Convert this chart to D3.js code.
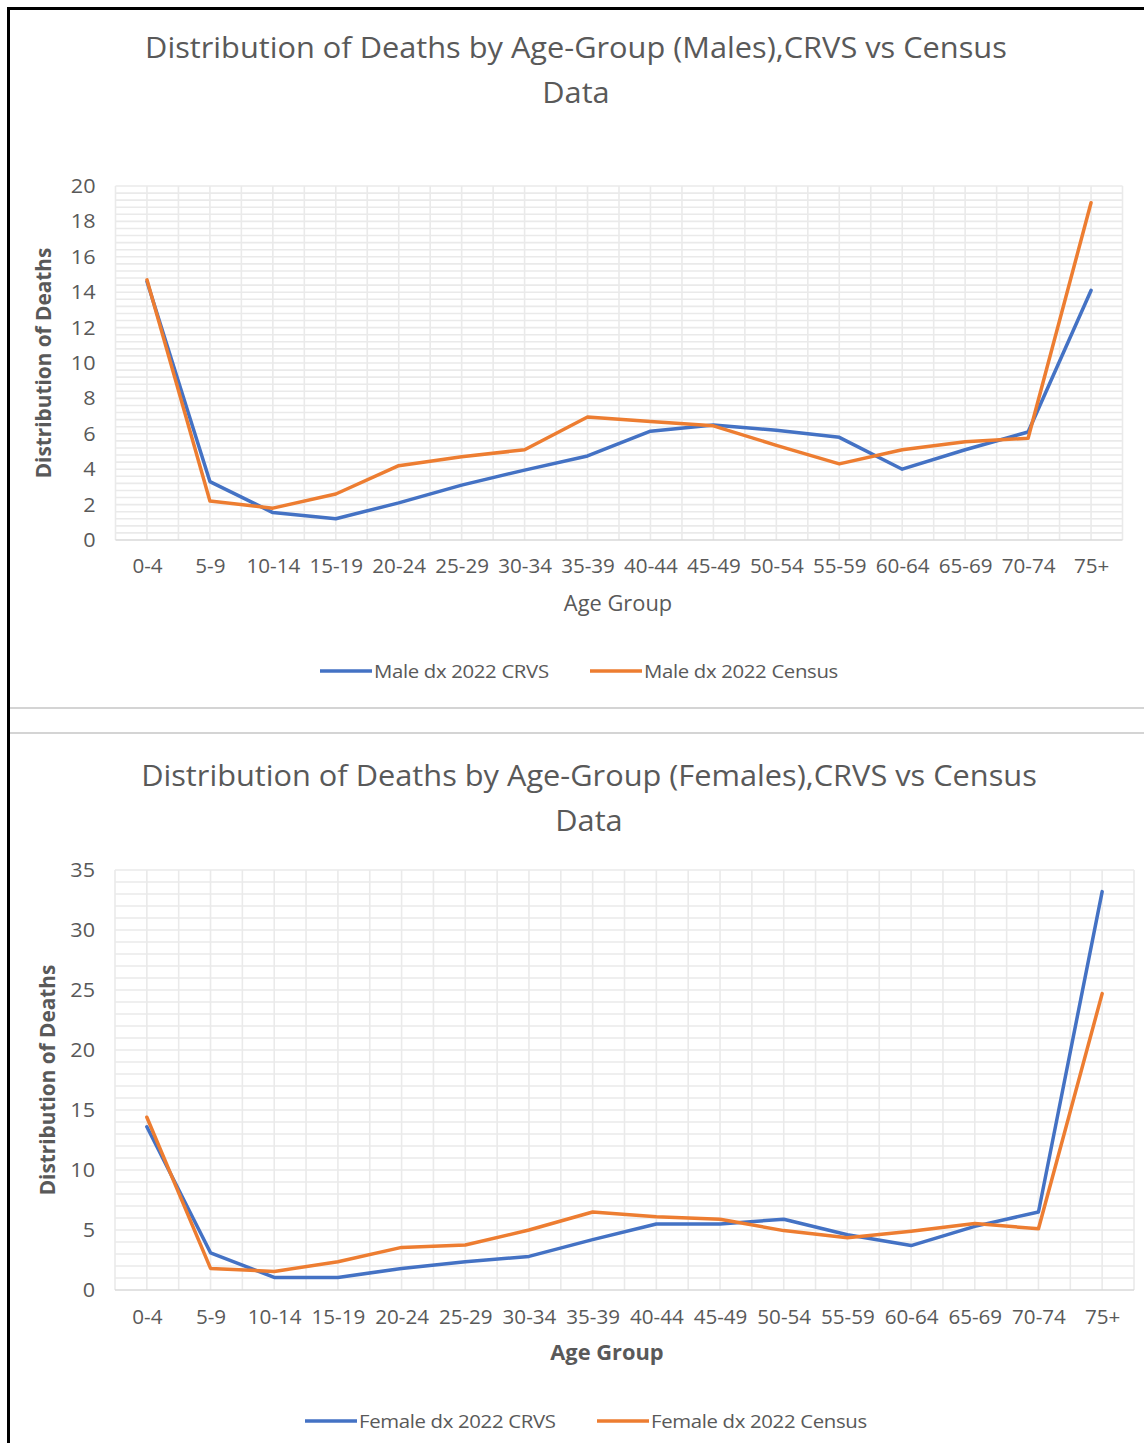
<!DOCTYPE html>
<html>
<head>
<meta charset="utf-8">
<script src="https://cdn.jsdelivr.net/npm/d3@7/dist/d3.min.js"></script>
<style>
  html, body { margin: 0; padding: 0; background: #fff; }
  svg { display: block; }
  text { font-family: "Open Sans", "Noto Sans", sans-serif; fill: #595959; }
</style>
</head>
<body>
<svg id="chart" width="1144" height="1443"></svg>
<script>
// Age groups shared by both panels
const ageGroups = ["0-4","5-9","10-14","15-19","20-24","25-29","30-34","35-39",
                   "40-44","45-49","50-54","55-59","60-64","65-69","70-74","75+"];

// Male distribution of deaths (%)
const maleCRVS   = [14.6, 3.3, 1.55, 1.2, 2.1, 3.1, 3.95, 4.75, 6.15, 6.5, 6.2, 5.8, 4.0, 5.1, 6.1, 14.1];
const maleCensus = [14.7, 2.2, 1.8, 2.6, 4.2, 4.7, 5.1, 6.95, 6.7, 6.45, 5.35, 4.3, 5.1, 5.55, 5.75, 19.05];

// Female distribution of deaths (%)
const femaleCRVS   = [13.6, 3.1, 1.05, 1.05, 1.8, 2.35, 2.8, 4.2, 5.5, 5.5, 5.9, 4.6, 3.7, 5.3, 6.5, 33.2];
const femaleCensus = [14.4, 1.8, 1.55, 2.35, 3.55, 3.75, 5.0, 6.5, 6.1, 5.9, 4.95, 4.35, 4.9, 5.55, 5.1, 24.7];

// Axis ticks
const maleTicks   = [0, 2, 4, 6, 8, 10, 12, 14, 16, 18, 20];
const femaleTicks = [0, 5, 10, 15, 20, 25, 30, 35];

const maleSeriesNames   = ["Male dx 2022 CRVS", "Male dx 2022 Census"];
const femaleSeriesNames = ["Female dx 2022 CRVS", "Female dx 2022 Census"];
const seriesColors = ["#4472C4", "#ED7D31"];

const svg = d3.select("#chart");

// Stretch or squeeze each label horizontally by factor k
function fit(sel, k) {
  sel.each(function () {
    const len = this.getComputedTextLength();
    if (len > 0) {
      d3.select(this).attr("textLength", len * k).attr("lengthAdjust", "spacingAndGlyphs");
    }
  });
}

// Outer frame and the divider between the two panels
svg.append("rect")
  .attr("x", 8.5).attr("y", 8.5).attr("width", 1160).attr("height", 1460)
  .attr("fill", "none").attr("stroke", "#000").attr("stroke-width", 3);
[708, 733].forEach(y => {
  svg.append("line").attr("x1", 10).attr("x2", 1144).attr("y1", y).attr("y2", y)
    .attr("stroke", "#d4d4d4").attr("stroke-width", 2);
});

function drawPanel(cfg) {
  const g = svg.append("g");
  const { left, right, top, bottom } = cfg.plot;

  const xBand = d3.scaleBand().domain(ageGroups).range([left, right]).paddingInner(0).paddingOuter(0);
  const xc = d => xBand(d) + xBand.bandwidth() / 2;
  const y = d3.scaleLinear().domain([0, d3.max(cfg.ticks)]).range([bottom, top]);

  // Minor + major horizontal gridlines
  const grid = g.append("g").attr("stroke", "#eaeaea").attr("stroke-width", 1.6);
  const yMax = d3.max(cfg.ticks);
  const nMinor = Math.round(yMax / cfg.minorStep);
  for (let i = 1; i <= nMinor; i++) {
    const yy = y(i * cfg.minorStep);
    grid.append("line").attr("x1", left).attr("x2", right).attr("y1", yy).attr("y2", yy);
  }
  // Vertical gridlines: category boundaries and centres
  ageGroups.forEach((c, i) => {
    const xs = [xBand(c), xc(c)];
    if (i === ageGroups.length - 1) xs.push(xBand(c) + xBand.bandwidth());
    xs.forEach(xx => grid.append("line").attr("x1", xx).attr("x2", xx).attr("y1", top).attr("y2", bottom));
  });

  // Category axis line
  g.append("line").attr("x1", left).attr("x2", right).attr("y1", bottom).attr("y2", bottom)
    .attr("stroke", "#d9d9d9").attr("stroke-width", 1.6);

  // Y axis labels
  const yAxis = g.append("g").attr("transform", `translate(${left},0)`)
    .call(d3.axisLeft(y).tickValues(cfg.ticks).tickSize(0).tickPadding(20));
  yAxis.select(".domain").remove();
  yAxis.selectAll("text").style("font-size", "20px").attr("fill", "#595959")
    .style("font-family", "'Open Sans', sans-serif");
  fit(yAxis.selectAll("text"), 1.08);

  // X axis labels
  const xAxis = g.append("g").attr("transform", `translate(0,${bottom})`)
    .call(d3.axisBottom(d3.scalePoint().domain(ageGroups).range([xc(ageGroups[0]), xc(ageGroups[ageGroups.length - 1])]))
      .tickSize(0).tickPadding(cfg.xPad));
  xAxis.select(".domain").remove();
  xAxis.selectAll("text").style("font-size", "20px").attr("fill", "#595959")
    .style("font-family", "'Open Sans', sans-serif");
  fit(xAxis.selectAll("text"), 1.03);

  // Series lines
  const line = d3.line().x((d, i) => xc(ageGroups[i])).y(d => y(d));
  cfg.series.forEach((s, i) => {
    g.append("path").datum(s)
      .attr("fill", "none").attr("stroke", seriesColors[i]).attr("stroke-width", 3.5)
      .attr("stroke-linejoin", "round").attr("stroke-linecap", "round")
      .attr("d", line);
  });

  // Title (two lines)
  const title = g.append("text").attr("text-anchor", "middle").style("font-size", "29px");
  cfg.title.forEach((t, i) => {
    title.append("tspan").attr("x", cfg.titleX).attr("y", cfg.titleY + i * 45).text(t);
  });
  title.selectAll("tspan").each(function () {
    const len = this.getComputedTextLength();
    d3.select(this).attr("textLength", len * 1.06).attr("lengthAdjust", "spacingAndGlyphs");
  });

  // Axis titles
  const yt = g.append("text")
    .attr("transform", `translate(${cfg.yTitleX},${(top + bottom) / 2}) rotate(-90)`)
    .attr("text-anchor", "middle").attr("dy", "0.35em")
    .style("font-size", "21px").style("font-weight", "bold")
    .text("Distribution of Deaths");
  fit(yt, 0.99);

  const xt = g.append("text")
    .attr("x", cfg.xTitleX).attr("y", cfg.xTitleY).attr("text-anchor", "middle").attr("dy", "0.35em")
    .style("font-size", "21px").style("font-weight", cfg.xTitleBold ? "bold" : "normal")
    .text("Age Group");
  fit(xt, 1.04);

  // Legend
  cfg.legendX.forEach((lx, i) => {
    g.append("line").attr("x1", lx).attr("x2", lx + 52).attr("y1", cfg.legendY).attr("y2", cfg.legendY)
      .attr("stroke", seriesColors[i]).attr("stroke-width", 3.5);
    const lt = g.append("text").attr("x", lx + 54).attr("y", cfg.legendY).attr("dy", "0.35em")
      .style("font-size", "19px").style("letter-spacing", "-0.3px").text(cfg.names[i]);
    fit(lt, 1.07);
  });
}

drawPanel({
  plot: { left: 115.5, right: 1122.5, top: 186, bottom: 540 },
  ticks: maleTicks, minorStep: 0.4,
  series: [maleCRVS, maleCensus], names: maleSeriesNames,
  title: ["Distribution of Deaths by Age-Group (Males),CRVS vs Census", "Data"],
  titleX: 576, titleY: 58,
  yTitleX: 44, xTitleX: 618, xTitleY: 604, xTitleBold: false, xPad: 19,
  legendX: [320, 590], legendY: 671
});

drawPanel({
  plot: { left: 115, right: 1134, top: 870, bottom: 1290 },
  ticks: femaleTicks, minorStep: 1,
  series: [femaleCRVS, femaleCensus], names: femaleSeriesNames,
  title: ["Distribution of Deaths by Age-Group (Females),CRVS vs Census", "Data"],
  titleX: 589, titleY: 786,
  yTitleX: 48, xTitleX: 607, xTitleY: 1353, xTitleBold: true, xPad: 20,
  legendX: [305, 597], legendY: 1421
});
</script>
</body>
</html>
